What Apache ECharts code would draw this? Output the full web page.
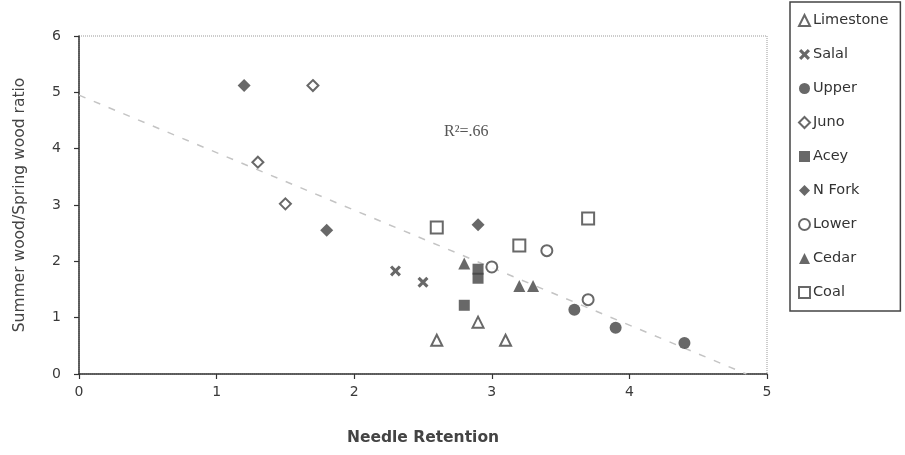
<!DOCTYPE html>
<html>
<head>
<meta charset="utf-8">
<script src="https://cdn.jsdelivr.net/npm/echarts@6/dist/echarts.min.js"></script>
<style>
  html, body { margin: 0; padding: 0; background: #fff; }
  #chart { width: 905px; height: 455px; }
</style>
</head>
<body>
<div id="chart"></div>
<script>
// site data: [needle retention, summer/spring wood ratio]
var limestone = [[2.6, 0.6], [2.9, 0.92], [3.1, 0.6]]
var salal = [[2.3, 1.83], [2.5, 1.63]]
var upper = [[3.6, 1.14], [3.9, 0.82], [4.4, 0.55]]
var juno = [[1.7, 5.12], [1.3, 3.76], [1.5, 3.02]]
var acey = [[2.8, 1.22], [2.9, 1.86], [2.9, 1.7]]
var nFork = [[1.2, 5.12], [1.8, 2.55], [2.9, 2.65]]
var lower = [[3.0, 1.9], [3.4, 2.19], [3.7, 1.32]]
var cedar = [[2.8, 1.96], [3.2, 1.56], [3.3, 1.56]]
var coal = [[2.6, 2.6], [3.2, 2.28], [3.7, 2.76]]

// fitted line (R2 = .66)
var trendX = [0, 4.85]
var trendY = [4.95, 0]

var xTicks = [0, 1, 2, 3, 4, 5]
var yTicks = [0, 1, 2, 3, 4, 5, 6]

var ink = '#424242'
var xMark = 'path://M0,2 L2,0 L5,3 L8,0 L10,2 L7,5 L10,8 L8,10 L5,7 L2,10 L0,8 L3,5 Z'

function site (name, data, symbol, size) {
  return {
    name: name,
    type: 'scatter',
    data: data,
    symbol: symbol,
    symbolSize: size,
    itemStyle: { color: ink, borderColor: ink, borderWidth: symbol.indexOf('empty') === 0 ? 2.3 : 0 }
  }
}

var dom = echarts.init(document.getElementById('chart'))
dom.setOption({
  backgroundColor: '#fff',
  animation: false,
  grid: {
    left: 79,
    right: 138,
    top: 36,
    bottom: 81,
    show: true,
    borderColor: '#999',
    borderWidth: 1,
    borderType: 'dotted'
  },
  legend: {
    orient: 'vertical',
    left: 790,
    top: 2,
    padding: [11, 12, 11, 8],
    itemGap: 19,
    itemWidth: 11,
    itemHeight: 11,
    borderColor: '#444',
    borderWidth: 1.5,
    textStyle: { fontFamily: 'DejaVu Sans', fontSize: 14.5, color: '#333', padding: [0, 0, 0, -2] },
    data: ['Limestone', 'Salal', 'Upper', 'Juno', 'Acey', 'N Fork', 'Lower', 'Cedar', 'Coal']
  },
  xAxis: {
    type: 'value',
    min: xTicks[0],
    max: xTicks[xTicks.length - 1],
    interval: 1,
    name: 'Needle Retention',
    nameLocation: 'middle',
    nameGap: 56,
    nameTextStyle: { fontFamily: 'DejaVu Sans', fontSize: 15.5, fontWeight: 'bold', color: '#444', verticalAlign: 'top' },
    splitLine: { show: false },
    axisLine: { lineStyle: { color: '#333', width: 1.5 } },
    axisTick: { length: 5, lineStyle: { color: '#333', width: 1.2 } },
    axisLabel: { margin: 11, fontFamily: 'DejaVu Sans', fontSize: 14, color: '#3a3a3a' }
  },
  yAxis: {
    type: 'value',
    min: yTicks[0],
    max: yTicks[yTicks.length - 1],
    interval: 1,
    name: 'Summer wood/Spring wood ratio',
    nameLocation: 'middle',
    nameGap: 51,
    nameTextStyle: { fontFamily: 'DejaVu Sans', fontSize: 15.5, color: '#444' },
    splitLine: { show: false },
    axisLine: { lineStyle: { color: '#333', width: 1.5 } },
    axisTick: { length: 5, lineStyle: { color: '#333', width: 1.2 } },
    axisLabel: { margin: 18, fontFamily: 'DejaVu Sans', fontSize: 14, color: '#3a3a3a' }
  },
  graphic: [{
    type: 'text',
    left: 444,
    top: 124,
    style: { text: 'R²=.66', fontFamily: 'Liberation Serif', fontSize: 16, fill: '#555' }
  }],
  series: [
    {
      name: 'trend',
      type: 'line',
      data: trendX.map(function (x, i) { return [x, trendY[i]] }),
      symbol: 'none',
      silent: true,
      lineStyle: { color: '#c4c4c4', width: 1.5, type: [7, 9] },
      z: 1
    },
    site('Limestone', limestone, 'emptyTriangle', 11),
    site('Salal', salal, xMark, 11),
    site('Upper', upper, 'circle', 12),
    site('Juno', juno, 'emptyDiamond', 11),
    site('Acey', acey, 'rect', 11),
    site('N Fork', nFork, 'diamond', 13),
    site('Lower', lower, 'emptyCircle', 11),
    site('Cedar', cedar, 'triangle', 12),
    site('Coal', coal, 'emptyRect', 12)
  ]
})
</script>
</body>
</html>
